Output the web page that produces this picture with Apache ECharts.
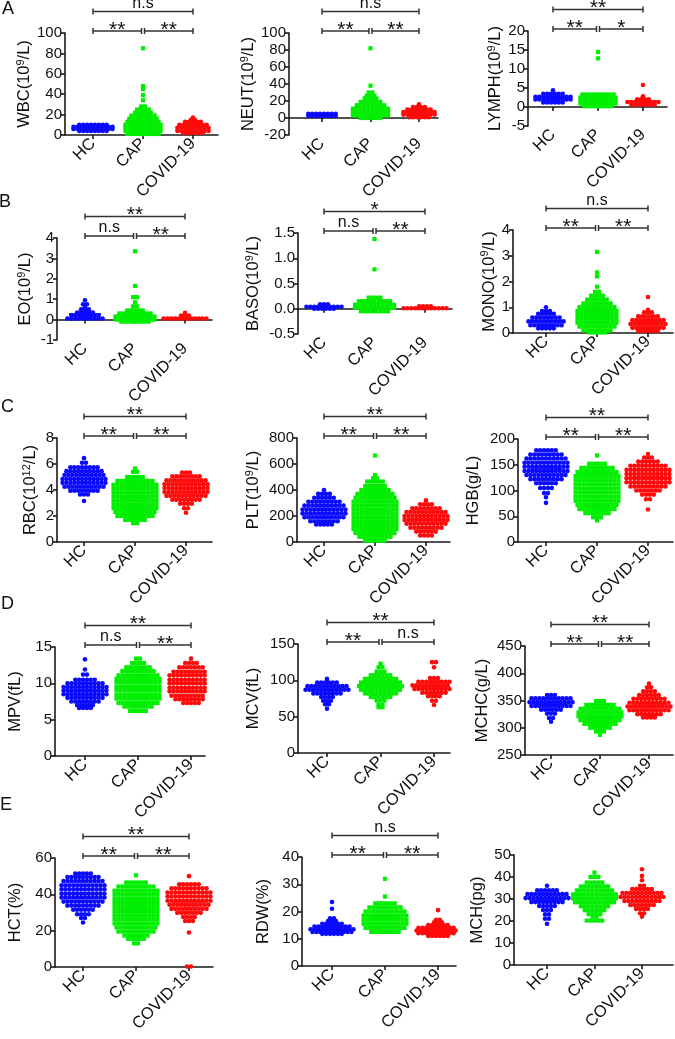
<!DOCTYPE html>
<html><head><meta charset="utf-8">
<script src="https://cdn.jsdelivr.net/npm/echarts@6/dist/echarts.min.js"></script>
<style>html,body{margin:0;padding:0;background:#fff}#c{width:675px;height:1039px}</style>
</head><body><div id="c"></div>
<script>
const categories = ['HC', 'CAP', 'COVID-19'];
// Each group: swarm rows as [value, dots in that row]
const wbcHC  = [[10,8],[8,11],[6,11],[4,8]];
const wbcCAP = [[85,1],[48,1],[45,1],[39,1],[34,1],[28,2],[25,4],[22,5],[19,7],[16,8],[13,9],[10,10],[7,10],[4,10],[1,9]];
const wbcCOV = [[17,1],[15,2],[13,5],[10,8],[7,9],[4,9],[2,6]];
const neutHC  = [[5,8],[2.5,8]];
const neutCAP = [[82,1],[38,1],[30,2],[26,3],[23,4],[19,6],[15,8],[11,10],[7,10],[3,10],[0,6]];
const neutCOV = [[16,1],[13,4],[10,7],[7,9],[4,9],[1,6]];
const lymHC  = [[4.4,1],[3.5,6],[2.7,10],[2,10],[1.2,6]];
const lymCAP = [[14.5,1],[12.8,1],[3.3,9],[2.5,10],[1.7,10],[0.9,10],[0.2,8]];
const lymCOV = [[5.8,1],[2.8,1],[2,4],[1.3,9],[0.6,7]];
const eoHC  = [[0.95,1],[0.75,2],[0.6,1],[0.5,3],[0.35,5],[0.2,8],[0.05,10]];
const eoCAP = [[3.35,1],[1.65,1],[1.1,2],[0.85,1],[0.65,2],[0.45,5],[0.3,9],[0.15,11],[0,11],[-0.1,8]];
const eoCOV = [[0.33,1],[0.2,3],[0.05,12]];
const basoHC  = [[0.09,3],[0.04,10],[0,6]];
const basoCAP = [[1.38,1],[0.78,1],[0.22,4],[0.15,9],[0.08,11],[0.02,11],[-0.05,8]];
const basoCOV = [[0.05,4],[0.01,12]];
const monoHC  = [[1.0,1],[0.85,3],[0.75,5],[0.6,8],[0.45,10],[0.3,9],[0.18,5]];
const monoCAP = [[3.15,1],[2.35,1],[2.2,1],[1.8,1],[1.6,2],[1.45,4],[1.3,6],[1.15,8],[1.0,10],[0.85,11],[0.7,11],[0.55,11],[0.4,11],[0.25,10],[0.1,8],[0.02,5]];
const monoCOV = [[1.4,1],[0.9,1],[0.8,3],[0.65,6],[0.5,9],[0.35,10],[0.2,9],[0.08,6]];
const rbcHC  = [[6.45,1],[6.1,2],[5.75,8],[5.45,10],[5.15,11],[4.85,12],[4.55,12],[4.25,11],[3.95,8],[3.65,3],[3.15,1]];
const rbcCAP = [[5.65,1],[5.4,2],[5.0,5],[4.7,10],[4.4,12],[4.1,12],[3.8,12],[3.5,12],[3.2,12],[2.9,12],[2.6,12],[2.3,11],[2.0,10],[1.7,6],[1.45,2]];
const rbcCOV = [[5.35,3],[5.05,8],[4.75,11],[4.45,12],[4.15,12],[3.85,12],[3.55,11],[3.25,8],[2.95,4],[2.6,2],[2.25,1]];
const pltHC  = [[400,1],[370,4],[340,6],[310,9],[280,11],[250,12],[220,12],[190,11],[160,8],[135,5]];
const pltCAP = [[665,1],[515,1],[490,2],[465,5],[430,6],[400,8],[370,10],[340,11],[310,12],[280,12],[250,12],[220,12],[190,12],[160,12],[130,12],[100,12],[70,11],[40,9],[10,6]];
const pltCOV = [[320,1],[290,4],[260,8],[230,11],[200,12],[170,12],[140,11],[110,9],[80,6],[50,4]];
const hgbHC  = [[178,6],[170,9],[162,11],[154,12],[146,12],[138,12],[130,11],[122,9],[114,6],[105,4],[95,2],[87,1],[76,1]];
const hgbCAP = [[168,1],[152,5],[144,9],[136,11],[128,12],[120,12],[112,12],[104,12],[96,12],[88,12],[80,12],[72,11],[64,10],[56,7],[48,3],[42,1]];
const hgbCOV = [[171,1],[164,3],[156,6],[148,10],[140,12],[132,12],[124,12],[116,12],[108,10],[100,7],[92,4],[83,2],[63,1]];
const mpvHC  = [[13.3,1],[11.9,1],[11.2,2],[10.5,6],[10,10],[9.5,12],[9,12],[8.5,12],[8,10],[7.5,8],[7,5],[6.6,4]];
const mpvCAP = [[13.4,2],[12.8,4],[12.2,7],[11.7,9],[11.1,11],[10.6,12],[10.1,12],[9.5,12],[9,12],[8.4,12],[7.9,12],[7.3,11],[6.8,8],[6.2,5]];
const mpvCOV = [[13.4,1],[12.8,4],[12.2,7],[11.6,10],[11.1,12],[10.5,12],[10,12],[9.4,12],[8.9,12],[8.3,11],[7.8,9],[7.3,5]];
const mcvHC  = [[102,1],[97,6],[92,11],[87,12],[82,8],[77,4],[72,3],[67,2],[61,1]];
const mcvCAP = [[123,1],[118,2],[112,3],[107,6],[102,9],[97,11],[92,12],[87,11],[82,9],[77,6],[72,3],[66,2],[63,2]];
const mcvCOV = [[125,2],[118,1],[103,3],[98,9],[93,12],[88,11],[83,7],[78,4],[72,2],[66,1]];
const mchcHC  = [[360,3],[354,11],[347,12],[340,11],[333,6],[326,3],[318,2],[311,1]];
const mchcCAP = [[349,3],[342,8],[335,11],[328,12],[321,12],[314,11],[307,9],[300,6],[293,3],[287,1]];
const mchcCOV = [[381,1],[374,2],[367,4],[360,6],[353,9],[346,11],[339,12],[332,11],[325,7],[319,4]];
const hctHC  = [[51.5,5],[49.5,9],[47.3,11],[45,12],[42.8,12],[40.5,12],[38.3,12],[36,11],[33.8,9],[31.5,6],[29,4],[27,2],[24.5,1]];
const hctCAP = [[50.5,1],[46.5,6],[44.3,10],[42,12],[39.8,12],[37.5,12],[35.3,12],[33,12],[30.8,12],[28.5,12],[26.3,12],[24,12],[21.8,11],[19.5,10],[17.3,7],[15.5,5],[13,2]];
const hctCOV = [[50,1],[45.5,6],[43.3,10],[41,12],[38.8,12],[36.5,12],[34.3,11],[32,10],[29.8,7],[27.5,4],[25.3,3],[19,1],[0.3,2]];
const rdwHC  = [[23.5,1],[21,1],[17.5,2],[16.5,3],[15.5,6],[14.5,10],[13.5,12],[12.5,11],[11.8,6]];
const rdwCAP = [[32,1],[25.5,1],[23,6],[21.5,9],[20,11],[18.5,12],[17,12],[15.5,12],[14,11],[12.5,8]];
const rdwCOV = [[20.5,1],[17,2],[16,3],[15,6],[14,11],[13,12],[12,11],[11,6]];
const mchHC  = [[36,1],[34,6],[32.2,11],[30.4,12],[28.6,9],[26.8,5],[25,3],[23,2],[21,2],[18.7,1]];
const mchCAP = [[42,1],[40,3],[37.5,5],[35.7,8],[33.9,10],[32.1,12],[30.3,12],[28.5,11],[26.7,8],[24.9,6],[23.1,4],[22,2],[20.2,5]];
const mchCOV = [[43.5,1],[40.5,1],[38.5,1],[36,2],[34.5,6],[32.7,11],[30.9,12],[29.1,10],[27.3,7],[25.5,4],[23.5,2],[22,1]];

// Axis names, ranges and significance labels [HC-COVID, HC-CAP, CAP-COVID]
const panels = [
  {label:'WBC(10', sup:'9', tail:'/L)', groups:[wbcHC,wbcCAP,wbcCOV], min:0, max:100, step:20, sig:['n.s','**','**']},
  {label:'NEUT(10', sup:'9', tail:'/L)', groups:[neutHC,neutCAP,neutCOV], min:-20, max:100, step:20, sig:['n.s','**','**']},
  {label:'LYMPH(10', sup:'9', tail:'/L)', groups:[lymHC,lymCAP,lymCOV], min:-5, max:20, step:5, sig:['**','**','*']},
  {label:'EO(10', sup:'9', tail:'/L)', groups:[eoHC,eoCAP,eoCOV], min:-1, max:4, step:1, sig:['**','n.s','**']},
  {label:'BASO(10', sup:'9', tail:'/L)', groups:[basoHC,basoCAP,basoCOV], min:-0.5, max:1.5, step:0.5, dec:1, sig:['*','n.s','**']},
  {label:'MONO(10', sup:'9', tail:'/L)', groups:[monoHC,monoCAP,monoCOV], min:0, max:4, step:1, sig:['n.s','**','**']},
  {label:'RBC(10', sup:'12', tail:'/L)', groups:[rbcHC,rbcCAP,rbcCOV], min:0, max:8, step:2, sig:['**','**','**']},
  {label:'PLT(10', sup:'9', tail:'/L)', groups:[pltHC,pltCAP,pltCOV], min:0, max:800, step:200, sig:['**','**','**']},
  {label:'HGB(g/L)', groups:[hgbHC,hgbCAP,hgbCOV], min:0, max:200, step:50, sig:['**','**','**']},
  {label:'MPV(fL)', groups:[mpvHC,mpvCAP,mpvCOV], min:0, max:15, step:5, sig:['**','n.s','**']},
  {label:'MCV(fL)', groups:[mcvHC,mcvCAP,mcvCOV], min:0, max:150, step:50, sig:['**','**','n.s']},
  {label:'MCHC(g/L)', groups:[mchcHC,mchcCAP,mchcCOV], min:250, max:450, step:50, sig:['**','**','**']},
  {label:'HCT(%)', groups:[hctHC,hctCAP,hctCOV], min:0, max:60, step:20, sig:['**','**','**']},
  {label:'RDW(%)', groups:[rdwHC,rdwCAP,rdwCOV], min:0, max:40, step:10, sig:['n.s','**','**']},
  {label:'MCH(pg)', groups:[mchHC,mchCAP,mchCOV], min:0, max:50, step:10, sig:null}
];
const panelLetters = ['A','B','C','D','E'];

// Layout (pixels): [axisLeft, axisRight, top, bottom, HC x, COVID x, nameGap]
const layout = [
  [65,218,33,135,93,193,30],[289,438,33,135,322,419,31],[528,667,31,126,553,643,21],
  [57,212,238,340,85,185,22],[298,452,233,334,324,425,35],[513,673,230,333,546,648,13],
  [57,212,438,542,84,186,17],[297,450,438,542,324,426,34],[518,673,439,542,546,648,35],
  [55,205,647,756,85,191,30],[298,450,644,753,327,434,35],[525,673,646,755,551,649,33],
  [55,213,858,967,83,189,30],[302,456,857,966,332,438,29],[514,673,855,965,547,642,27]
];
const letterPos = [[8,10],[5,203],[7,408],[7,605],[6,806]];
const colors = ['#0a0aff', '#00ee00', '#ff0a0a'];
const symbols = ['circle', 'rect', 'circle'];
const FONT = 'Liberation Sans, Arial, sans-serif';
const DOT = 4.6, DOT_GAP = 3.9;

const grids = [], xAxes = [], yAxes = [], series = [];
panels.forEach((p, k) => {
  const [L, R, T, B, h, c, gap] = layout[k];
  const unit = (c - h) / 2;
  const xmin = 1 - (h - L) / unit, xmax = 3 + (R - c) / unit;
  const dx = DOT_GAP / unit;
  grids.push({left: L, top: T, width: R - L, height: B - T});
  xAxes.push({
    type: 'value', gridIndex: k, min: xmin, max: xmax, splitLine: {show: false},
    axisLine: {lineStyle: {color: '#1a1a1a', width: 1.6}},
    axisTick: {customValues: [1, 2, 3], length: 4, lineStyle: {color: '#1a1a1a', width: 1.6}},
    axisLabel: {customValues: [1, 2, 3], rotate: 45, margin: 6, fontSize: 16.5, fontFamily: FONT, color: '#111',
      formatter: v => categories[Math.round(v) - 1]}
  });
  const nameStr = p.sup ? `{t|${p.label}}{s|${p.sup}}{t|${p.tail}}` : `{t|${p.label}}`;
  yAxes.push({
    type: 'value', gridIndex: k, min: p.min, max: p.max, interval: p.step,
    name: nameStr, nameLocation: 'middle', nameGap: gap,
    nameTextStyle: {rich: {t: {fontSize: 16.5, fontFamily: FONT, color: '#111', lineHeight: 19},
                           s: {fontSize: 11, fontFamily: FONT, color: '#111', verticalAlign: 'top', lineHeight: 12}}},
    splitLine: {show: false},
    axisLine: {show: true, lineStyle: {color: '#1a1a1a', width: 1.6}},
    axisTick: {show: true, length: 4, lineStyle: {color: '#1a1a1a', width: 1.6}},
    axisLabel: {fontSize: 15, fontFamily: FONT, color: '#111', margin: 3,
      formatter: v => p.dec ? v.toFixed(p.dec) : String(v)}
  });
  const stats = [];
  p.groups.forEach((rows, g) => {
    const center = g + 1, pts = [];
    let sum = 0, n = 0;
    rows.forEach(([v, cnt]) => {
      for (let i = 0; i < cnt; i++) pts.push([center + (i - (cnt - 1) / 2) * dx, v]);
      sum += v * cnt; n += cnt;
    });
    stats.push([center, sum / n]);
    series.push({type: 'scatter', xAxisIndex: k, yAxisIndex: k, data: pts, symbol: symbols[g],
      symbolSize: g === 1 ? DOT - 0.4 : DOT, itemStyle: {color: colors[g], opacity: 1}, silent: true, z: 2, animation: false});
  });
  // group mean line
  series.push({type: 'custom', xAxisIndex: k, yAxisIndex: k, data: stats, silent: true, z: 3, animation: false,
    renderItem: (params, api) => {
      const m = api.coord([api.value(0), api.value(1)]);
      return {type: 'line', shape: {x1: m[0] - 16, y1: m[1], x2: m[0] + 16, y2: m[1]},
        style: {stroke: colors[params.dataIndex], lineWidth: 1.5}};
    }});
  // significance brackets: [from, to, level]
  if (p.sig) {
    const br = [[1, 3, 1, p.sig[0]], [1, 2, 0, p.sig[1]], [2, 3, 0, p.sig[2]]];
    series.push({type: 'custom', xAxisIndex: k, yAxisIndex: k, clip: false, silent: true, animation: false,
      data: br.map(b => [b[0], b[1], b[2]]),
      renderItem: (params, api) => {
        const b = br[params.dataIndex];
        const p1 = api.coord([b[0], p.max]), p2 = api.coord([b[1], p.max]);
        const y = p1[1] - 2 - b[2] * 19.5;
        let xa = p1[0], xb = p2[0];
        if (b[2] === 0 && b[1] === 2) xb -= 1.5;
        if (b[2] === 0 && b[0] === 2) xa += 1.5;
        const st = {stroke: '#333', lineWidth: 1.5};
        const star = b[3].indexOf('*') >= 0;
        return {type: 'group', children: [
          {type: 'line', shape: {x1: xa, y1: y, x2: xb, y2: y}, style: st},
          {type: 'line', shape: {x1: xa, y1: y - 3, x2: xa, y2: y + 3}, style: st},
          {type: 'line', shape: {x1: xb, y1: y - 3, x2: xb, y2: y + 3}, style: st},
          {type: 'text', style: {text: b[3], x: (xa + xb) / 2, y: star ? y - 1 : y - 8,
            align: 'center', verticalAlign: 'middle', fill: '#111',
            fontSize: star ? 21 : 16, fontFamily: FONT}}
        ]};
      }});
  }
});

const chart = echarts.init(document.getElementById('c'), null, {renderer: 'canvas'});
chart.setOption({
  animation: false,
  grid: grids, xAxis: xAxes, yAxis: yAxes, series: series,
  graphic: panelLetters.map((t, i) => ({type: 'text', left: letterPos[i][0] - 6, top: letterPos[i][1] - 10,
    style: {text: t, fontSize: 18, fontFamily: FONT, fill: '#111'}}))
});
</script></body></html>
